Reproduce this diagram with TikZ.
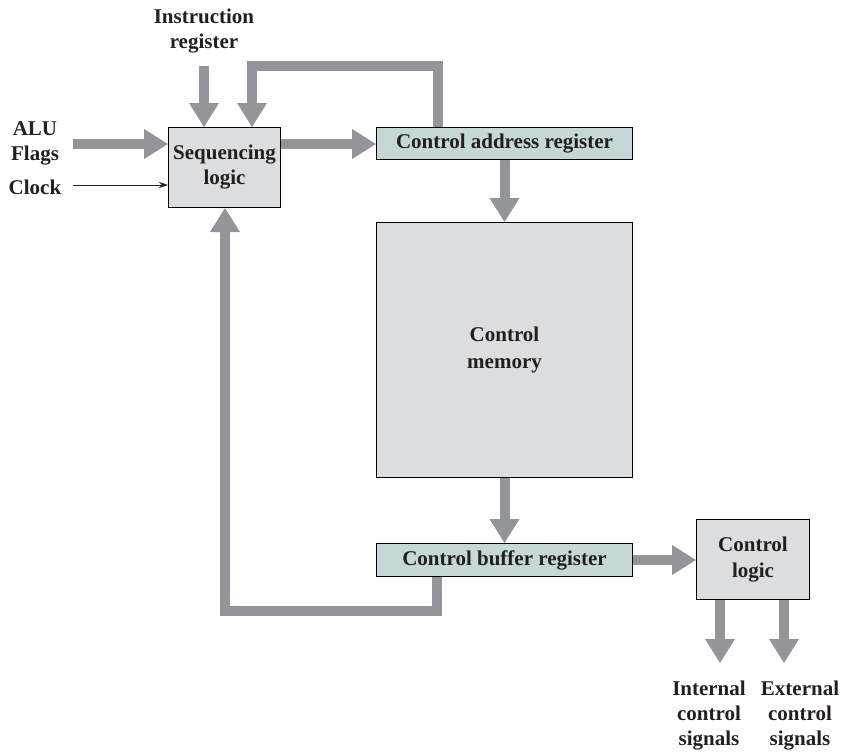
\documentclass[tikz,border=0pt]{standalone}
\usepackage{fontspec}
\setmainfont{Liberation Serif}
\usetikzlibrary{arrows.meta}
\definecolor{arr}{HTML}{939598}
\definecolor{boxg}{HTML}{DCDDDE}
\definecolor{regc}{HTML}{C5D8D6}
\definecolor{txt}{HTML}{231F20}
\begin{document}
\begin{tikzpicture}[x=1pt,y=-1pt,
 lbl/.style={font=\fontsize{21}{25}\selectfont\bfseries, text=txt, align=center, inner sep=0pt},
 blk/.style={draw=black, line width=1pt, fill=boxg, anchor=north west, inner sep=0pt},
 reg/.style={blk, fill=regc},
 big/.style={draw=arr, line width=10pt, line join=miter, -{Triangle[width=30pt,length=24pt,line width=0pt,fill=arr]}}]
\useasboundingbox (0,0) rectangle (843,753);
% blocks
\node[blk, lbl, minimum width=112pt, minimum height=80pt] (seq) at (168,127) {Sequencing\\logic};
\node[reg, lbl, minimum width=256pt, minimum height=32pt] (car) at (376,127) {Control address register};
\node[blk, lbl, minimum width=256pt, minimum height=255pt, font=\fontsize{21}{27}\selectfont\bfseries] (cm) at (376,222) {Control\\memory};
\node[reg, lbl, minimum width=256pt, minimum height=33pt] (cbr) at (376,543) {Control buffer register};
\node[blk, lbl, minimum width=113pt, minimum height=80pt, font=\fontsize{21}{26}\selectfont\bfseries] (cl) at (696,519) {Control\\logic};
% labels
\node[lbl] (irl) at (204,31) {Instruction\\register};
\node[lbl] (alul) at (35,143) {ALU\\Flags};
\node[lbl] (clkl) at (35,187) {Clock};
\node[lbl] (intl) at (709,716) {Internal\\control\\signals};
\node[lbl] (extl) at (800,716) {External\\control\\signals};
% free ends and bends
\coordinate (ir) at (204,66);
\coordinate (f1) at (438,66);
\coordinate (f2) at (252,66);
\coordinate (alu) at (73,144);
\coordinate (clk) at (73,185);
\coordinate (b1) at (437,611);
\coordinate (b2) at (225,611);
\coordinate (o1) at (720,663);
\coordinate (o2) at (784,663);
% connectors
\draw[big] (ir) -- (ir |- seq.north);
\draw[big] (f1 |- car.north) -- (f1) -- (f2) -- (f2 |- seq.north);
\draw[big] (alu) -- (alu -| seq.west);
\draw[-{Stealth[length=9pt,width=6pt]}, line width=0.8pt, draw=txt, fill=txt] (clk) -- (clk -| seq.west);
\draw[big] (seq.east |- alu) -- (car.west |- alu);
\draw[big] (car.south) -- (car.south |- cm.north);
\draw[big] (cm.south) -- (cm.south |- cbr.north);
\draw[big] (cbr.east) -- (cl.west |- cbr.east);
\draw[big] (b1 |- cbr.south) -- (b1) -- (b2) -- (b2 |- seq.south);
\draw[big] (o1 |- cl.south) -- (o1);
\draw[big] (o2 |- cl.south) -- (o2);
\end{tikzpicture}
\end{document}
